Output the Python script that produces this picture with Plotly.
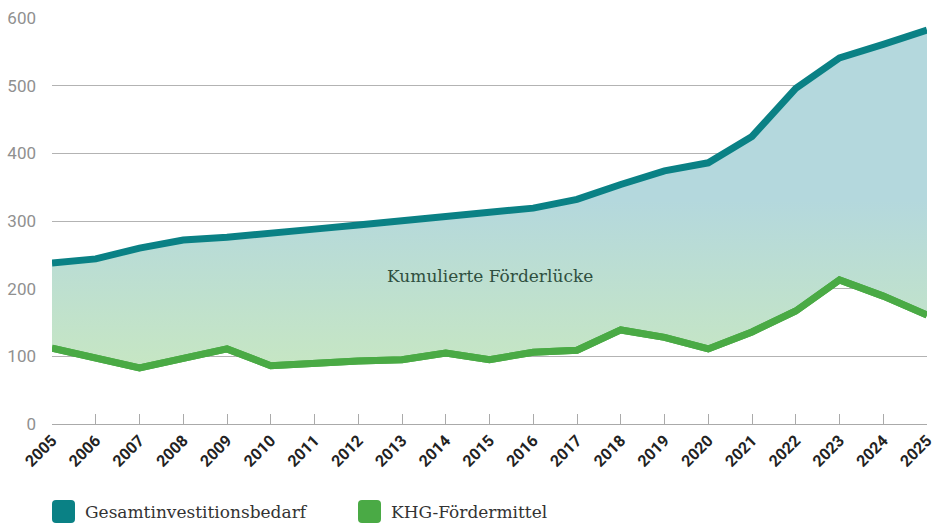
import plotly.graph_objects as go

years = list(range(2005, 2026))
gesamt = [238, 244, 260, 272, 276, 281, 288, 294, 301, 307, 313, 319, 332, 354, 374, 386, 425, 496, 541, 561, 582]
khg = [112, 97, 83, 97, 111, 86, 90, 93, 95, 105, 95, 106, 109, 139, 128, 111, 136, 167, 213, 189, 161]
y_ticks = [0, 100, 200, 300, 400, 500, 600]
series_names = ["Gesamtinvestitionsbedarf", "KHG-Fördermittel"]

TEAL = "#0a8185"
GREEN = "#4aaa45"

W, H = 934, 523
ML, MR, MT, MB = 52, 7, 18, 99
PW, PH = W - ML - MR, H - MT - MB

fig = go.Figure()
fig.add_trace(go.Scatter(x=years, y=khg, mode="lines", line=dict(color=GREEN, width=7),
                         showlegend=False, hoverinfo="skip"))
fig.add_trace(go.Scatter(x=years, y=gesamt, mode="lines", line=dict(color=TEAL, width=7),
                         fill="tonexty",
                         fillgradient=dict(type="vertical", start=90, stop=330,
                                           colorscale=[[0, "rgb(198,230,196)"], [1, "rgb(180,216,221)"]]),
                         showlegend=False, hoverinfo="skip"))
fig.add_trace(go.Scatter(x=years, y=khg, mode="lines", line=dict(color=GREEN, width=7),
                         showlegend=False, hoverinfo="skip"))

fig.add_annotation(x=2015, y=218, text="Kumulierte Förderlücke", showarrow=False,
                   font=dict(family="DejaVu Serif", size=17, color="#2f4f3f"))


# manual legend (rounded squares + labels), positioned in paper units
def px_x(px):
    return (px - ML) / PW


def px_y(py):
    return (H - MB - py) / PH


def rounded_square(x0p, y0p, size, r, color):
    x0, x1 = px_x(x0p), px_x(x0p + size)
    y0, y1 = px_y(y0p + size), px_y(y0p)
    rx, ry = r / PW, r / PH
    path = (f"M {x0+rx},{y0} L {x1-rx},{y0} Q {x1},{y0} {x1},{y0+ry} "
            f"L {x1},{y1-ry} Q {x1},{y1} {x1-rx},{y1} L {x0+rx},{y1} "
            f"Q {x0},{y1} {x0},{y1-ry} L {x0},{y0+ry} Q {x0},{y0} {x0+rx},{y0} Z")
    fig.add_shape(type="path", path=path, xref="paper", yref="paper",
                  fillcolor=color, line=dict(width=0))


legend_items = [(52, TEAL, series_names[0]), (358, GREEN, series_names[1])]
for lx, col, name in legend_items:
    rounded_square(lx, 500, 23, 4, col)
    fig.add_annotation(x=px_x(lx + 31), y=px_y(512), xref="paper", yref="paper",
                       xanchor="left", yanchor="middle", text=name, showarrow=False,
                       font=dict(family="DejaVu Serif", size=17, color="#333333"))

fig.update_layout(
    width=W, height=H,
    margin=dict(l=ML, r=MR, t=MT, b=MB),
    paper_bgcolor="white", plot_bgcolor="white",
    showlegend=False,
    xaxis=dict(range=[2005, 2025], tickmode="array", tickvals=years, ticktext=[str(y) for y in years],
               tickangle=-45, tickfont=dict(family="Roboto", size=16, color="#222222", weight="bold"),
               ticklabeloverflow="allow", automargin=False,
               ticks="inside", ticklen=10, tickcolor="#aaaaaa", showline=True, linecolor="#aaaaaa",
               showgrid=False, zeroline=False),
    yaxis=dict(range=[0, 600], tickvals=y_ticks, showgrid=True, gridcolor="#b3b3b3", gridwidth=1,
               zeroline=False, tickfont=dict(family="Roboto", size=17, color="#909090"),
               ticklabelstandoff=15, automargin=False),
)

fig.write_html("out.html", config={"displayModeBar": False},
               post_script="document.body.style.margin='0';document.body.style.overflow='hidden';")
